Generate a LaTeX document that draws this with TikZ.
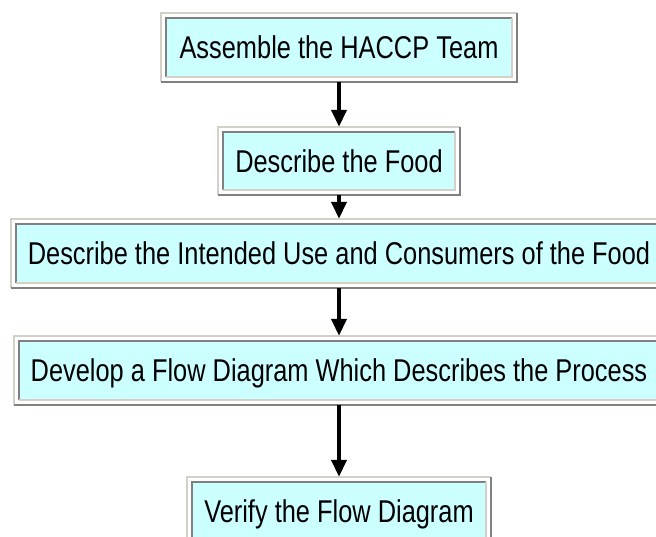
\documentclass[tikz,border=0pt]{standalone}
\usepackage{fontspec}
\setmainfont[FakeStretch=0.806]{Liberation Sans}
\usetikzlibrary{arrows.meta,backgrounds}
\definecolor{stepfill}{HTML}{CCFFFF}
\definecolor{lightedge}{HTML}{D4D0C8}
\definecolor{darkedge}{HTML}{808080}
\tikzset{
  stepbox/.style={minimum height=69pt, inner sep=0pt, text height=22.6pt, text depth=0pt,
    font=\fontsize{31.5}{36}\selectfont},
  flow/.style={line width=4pt, -{Triangle[width=15pt,length=17pt]}},
}
% sunken double frame round a step
\newcommand{\ridgeframe}[1]{%
  \begin{scope}[on background layer]
    \fill[stepfill] ([shift={(5pt,-5pt)}]#1.north west) rectangle ([shift={(-5pt,5pt)}]#1.south east);
  \end{scope}
  \draw[lightedge, line width=2pt] (#1.south west) -- (#1.north west) -- (#1.north east);
  \draw[darkedge, line width=2pt] (#1.north east) -- (#1.south east) -- (#1.south west);
  \draw[darkedge, line width=2pt] ([shift={(5pt,5pt)}]#1.south west) -- ([shift={(5pt,-5pt)}]#1.north west) -- ([shift={(-5pt,-5pt)}]#1.north east);
  \draw[lightedge, line width=2pt] ([shift={(-5pt,-5pt)}]#1.north east) -- ([shift={(-5pt,5pt)}]#1.south east) -- ([shift={(5pt,5pt)}]#1.south west);
}
\begin{document}
\begin{tikzpicture}[x=1pt, y=-1pt, line join=miter]
  \useasboundingbox (0,0) rectangle (656,536);
  \node[stepbox, minimum width=355pt] (team) at (339,47.5) {Assemble the HACCP Team};
  \node[stepbox, minimum width=241pt, minimum height=68pt] (food) at (339,161) {Describe the Food};
  \node[stepbox, minimum width=656pt] (use) at (339,253.5) {Describe the Intended Use and Consumers of the Food};
  \node[stepbox, minimum width=650pt] (flowdiag) at (339,370.5) {Develop a Flow Diagram Which Describes the Process};
  \node[stepbox, minimum width=303pt] (verify) at (339,511.5) {Verify the Flow Diagram};
  \ridgeframe{team}
  \ridgeframe{food}
  \ridgeframe{use}
  \ridgeframe{flowdiag}
  \ridgeframe{verify}
  % arrows between the steps
  \draw[flow] (team.south) -- (food.north);
  \draw[flow] (food.south) -- (use.north);
  \draw[flow] (use.south) -- (flowdiag.north);
  \draw[flow] (flowdiag.south) -- (verify.north);
\end{tikzpicture}
\end{document}
